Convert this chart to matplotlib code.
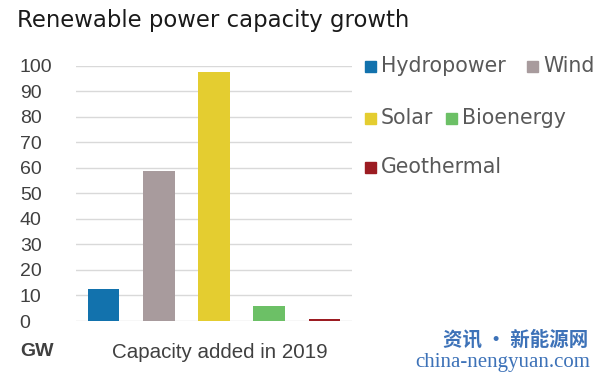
import matplotlib
matplotlib.use('Agg')
import matplotlib.pyplot as plt
from matplotlib.patches import Rectangle

# ---- data ----
sources = ['Hydropower', 'Wind', 'Solar', 'Bioenergy', 'Geothermal']
added_gw = [12.4, 58.8, 97.6, 6.0, 0.8]
colors = ['#1272ad', '#a89b9d', '#e4cd30', '#6cc066', '#9c1c22']
yticks = [0, 10, 20, 30, 40, 50, 60, 70, 80, 90, 100]

W, H = 600, 377
fig = plt.figure(figsize=(6.0, 3.77), dpi=100)
ax = fig.add_axes([76/W, 1 - 321/H, 276/W, (321 - 65.7)/H])

x = range(len(sources))
ax.bar(x, added_gw, width=0.57, color=colors, zorder=3)
ax.set_xlim(-0.5, len(sources) - 0.5)
ax.set_ylim(0, 100)
ax.set_yticks(yticks)
ax.set_xticks([])
for s in ax.spines.values():
    s.set_visible(False)
ax.yaxis.grid(True, color='#d9d9d9', lw=1.0, zorder=0)
ax.tick_params(axis='y', length=0, pad=40.5, labelsize=14, labelcolor='#404040')
for lab in ax.get_yticklabels():
    lab.set_ha('left')
    lab.set_family('Liberation Sans')

txt = dict(family='Liberation Sans', color='#404040', va='center')
fig.text(20/W, 1 - 352/H, 'GW', fontweight='bold', fontsize=14, ha='left', **txt)
fig.text(220/W, 1 - 352/H, 'Capacity added in 2019', fontsize=14.8, ha='center', **txt)

fig.text(17/W, 1 - 20/H, 'Renewable power capacity growth', family='DejaVu Sans',
         fontsize=16.4, color='#1a1a1a', ha='left', va='center')

# legend, hand placed like the original (square left edge, row centre in px)
leg_pos = [(365, 66), (527, 66), (365, 118), (446, 118), (365, 167)]
for name, c, (lx, ly) in zip(sources, colors, leg_pos):
    fig.add_artist(Rectangle((lx/W, 1 - (ly + 5.5)/H), 11/W, 11/H,
                             transform=fig.transFigure, color=c))
    fig.text((lx + 16)/W, 1 - ly/H, name, family='DejaVu Sans', fontsize=14.8,
             color='#595959', ha='left', va='center')

# watermark
fig.text(588/W, 1 - 340/H, '资讯 · 新能源网', family=['Noto Sans CJK SC', 'DejaVu Sans'],
         fontsize=14, fontweight='bold', color='#3d72b8', ha='right', va='center')
fig.text(590/W, 1 - 362/H, 'china-nengyuan.com', family='Liberation Serif',
         fontsize=15, color='#3d72b8', ha='right', va='center')

fig.savefig('out.png', dpi=100)
